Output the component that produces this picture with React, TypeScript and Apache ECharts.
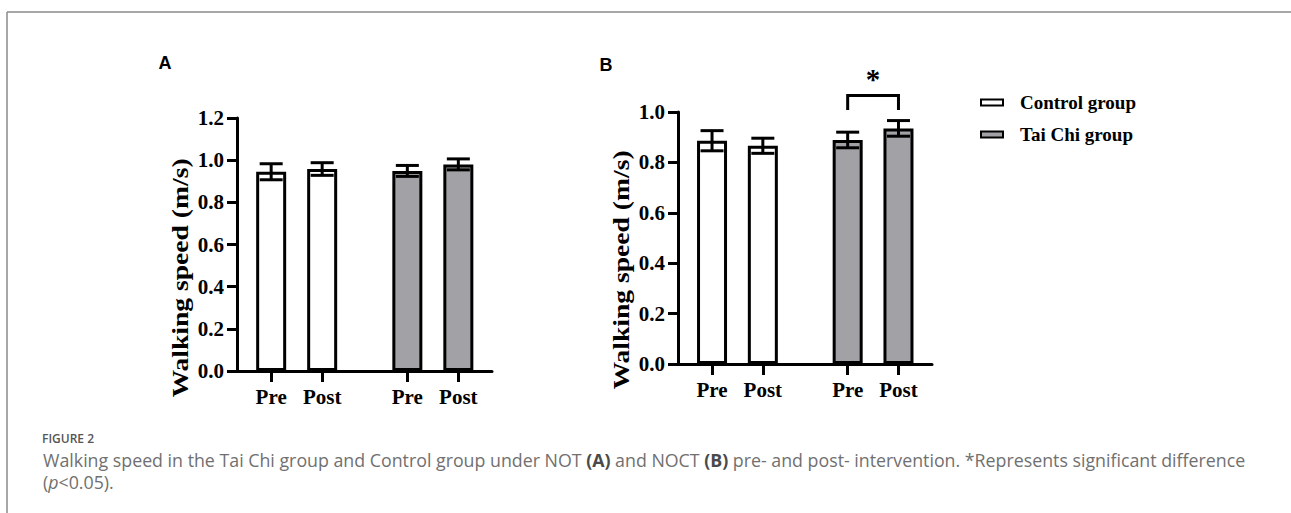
import React, { useEffect, useRef } from "react";
import * as echarts from "echarts";

// ---------- data ----------
const timePoints = ["Pre", "Post"];
const groups = ["Control group", "Tai Chi group"];

// Panel A (NOT)
const meanA_control = [0.945, 0.958];
const sdA_control = [0.038, 0.03];
const meanA_taichi = [0.949, 0.98];
const sdA_taichi = [0.026, 0.026];

// Panel B (NOCT)
const meanB_control = [0.886, 0.866];
const sdB_control = [0.04, 0.03];
const meanB_taichi = [0.889, 0.935];
const sdB_taichi = [0.031, 0.031];

// significance bracket in panel B (Tai Chi Pre vs Post): bracket level, leg end, star level
const sigB = [1.065, 1.008, 1.13];

const yMaxA = 1.2;
const yMaxB = 1.0;

// ---------- layout helpers ----------
const SERIF = "'Liberation Serif', 'Times New Roman', serif";
const SANS = "'Liberation Sans', Arial, sans-serif";
const CAP = "'Open Sans', sans-serif";
const firstOffset = 0.67;
const groupStep = 2.67;
const pos = (g: number, t: number) => firstOffset + g * groupStep + t;
const allPositions = groups.flatMap((_, g) => timePoints.map((_, t) => pos(g, t)));
const labelFor = (v: number) => {
  for (let g = 0; g < groups.length; g++)
    for (let t = 0; t < timePoints.length; t++)
      if (Math.abs(pos(g, t) - v) < 0.01) return timePoints[t];
  return "";
};

const fills = ["#ffffff", "#a2a2a6"];

function buildPanel(pi: number, means: number[][], sds: number[][]) {
  const series: any[] = [];
  groups.forEach((name, g) => {
    series.push({
      type: "bar",
      name,
      xAxisIndex: pi,
      yAxisIndex: pi,
      barWidth: 30,
      barGap: "-100%",
      data: timePoints.map((_, t) => [pos(g, t), means[g][t]]),
      itemStyle: { color: fills[g], borderColor: "#000", borderWidth: 3 },
      z: 2,
    });
  });
  const errData: number[][] = [];
  groups.forEach((_, g) =>
    timePoints.forEach((_, t) => errData.push([pos(g, t), means[g][t], sds[g][t]]))
  );
  series.push({
    type: "custom",
    xAxisIndex: pi,
    yAxisIndex: pi,
    z: 4,
    encode: { x: 0, y: 1 },
    data: errData,
    renderItem: (_p: any, api: any) => {
      const x = api.value(0);
      const m = api.value(1);
      const s = api.value(2);
      const top = api.coord([x, m + s]);
      const bot = api.coord([x, m - s]);
      const hw = 11.5;
      const style = { stroke: "#000", lineWidth: 3, fill: null };
      return {
        type: "group",
        children: [
          { type: "line", shape: { x1: top[0], y1: top[1], x2: bot[0], y2: bot[1] }, style },
          { type: "line", shape: { x1: top[0] - hw, y1: top[1], x2: top[0] + hw, y2: top[1] }, style },
          { type: "line", shape: { x1: bot[0] - hw, y1: bot[1], x2: bot[0] + hw, y2: bot[1] }, style },
        ],
      };
    },
  });
  return series;
}

function xAxisFor(gi: number) {
  return {
    type: "value",
    gridIndex: gi,
    min: 0,
    max: 5,
    splitLine: { show: false },
    axisLine: { show: true, lineStyle: { color: "#000", width: 3 } },
    axisTick: {
      show: true,
      customValues: allPositions,
      length: 11,
      lineStyle: { color: "#000", width: 3 },
    },
    axisLabel: {
      show: true,
      customValues: allPositions,
      formatter: (v: number) => labelFor(v),
      margin: 15,
      fontFamily: SERIF,
      fontWeight: "bold",
      fontSize: 21,
      color: "#000",
    },
  };
}

function yAxisFor(gi: number, max: number) {
  return {
    type: "value",
    gridIndex: gi,
    min: 0,
    max,
    interval: 0.2,
    splitLine: { show: false },
    axisLine: { show: true, lineStyle: { color: "#000", width: 3 } },
    axisTick: { show: true, length: 10, lineStyle: { color: "#000", width: 3 } },
    axisLabel: {
      formatter: (v: number) => v.toFixed(1),
      margin: 13,
      fontFamily: SERIF,
      fontWeight: "bold",
      fontSize: 21,
      color: "#000",
    },
  };
}

export default function App() {
  const ref = useRef<HTMLDivElement>(null);
  useEffect(() => {
    if (!ref.current) return;
    const chart = echarts.init(ref.current, undefined, { renderer: "svg" });

    const seriesA = buildPanel(0, [meanA_control, meanA_taichi], [sdA_control, sdA_taichi]);
    const seriesB = buildPanel(1, [meanB_control, meanB_taichi], [sdB_control, sdB_taichi]);

    const sigSeries = {
      type: "custom",
      xAxisIndex: 1,
      yAxisIndex: 1,
      z: 5,
      clip: false,
      encode: { x: [0, 1], y: [2, 3] },
      data: [[pos(1, 0), pos(1, 1), sigB[0], sigB[1], sigB[2]]],
      renderItem: (_p: any, api: any) => {
        const x1 = api.value(0);
        const x2 = api.value(1);
        const a = api.coord([x1, api.value(3)]);
        const b = api.coord([x1, api.value(2)]);
        const c = api.coord([x2, api.value(2)]);
        const d = api.coord([x2, api.value(3)]);
        const star = api.coord([(x1 + x2) / 2, api.value(4)]);
        return {
          type: "group",
          children: [
            {
              type: "polyline",
              shape: { points: [a, b, c, d] },
              style: { stroke: "#000", lineWidth: 3, fill: null },
            },
            {
              type: "text",
              x: star[0],
              y: star[1],
              style: {
                text: "*",
                fontFamily: SERIF,
                fontWeight: "bold",
                fontSize: 29,
                fill: "#000",
                align: "center",
                verticalAlign: "middle",
              },
            },
          ],
        };
      },
    };

    const option: any = {
      animation: false,
      backgroundColor: "#fff",
      grid: [
        { left: 237, top: 118, width: 255, height: 253 },
        { left: 678, top: 112, width: 254, height: 252 },
      ],
      xAxis: [xAxisFor(0), xAxisFor(1)],
      yAxis: [yAxisFor(0, yMaxA), yAxisFor(1, yMaxB)],
      legend: {
        orient: "vertical",
        left: 975,
        top: 88,
        icon: "rect",
        itemWidth: 22,
        itemHeight: 6,
        itemGap: 13,
        selectedMode: false,
        data: groups,
        textStyle: {
          fontFamily: SERIF,
          fontWeight: "bold",
          fontSize: 19,
          color: "#000",
          padding: [0, 0, 0, 12],
        },
      },
      series: [...seriesA, ...seriesB, sigSeries],
      graphic: {
        elements: [
          { type: "line", shape: { x1: 7, y1: 12, x2: 1291, y2: 12 }, style: { stroke: "#8a8a8a", lineWidth: 1.5 } },
          { type: "line", shape: { x1: 7, y1: 12, x2: 7, y2: 513 }, style: { stroke: "#8a8a8a", lineWidth: 1.5 } },
          {
            type: "text", x: 165, y: 63,
            style: { text: "A", fontFamily: SANS, fontWeight: "bold", fontSize: 18, fill: "#000", align: "center", verticalAlign: "middle" },
          },
          {
            type: "text", x: 606, y: 65,
            style: { text: "B", fontFamily: SANS, fontWeight: "bold", fontSize: 18, fill: "#000", align: "center", verticalAlign: "middle" },
          },
          {
            type: "text", x: 180, y: 278, rotation: Math.PI / 2, scaleX: 1.15,
            style: { text: "Walking speed (m/s)", fontFamily: SERIF, fontWeight: "bold", fontSize: 24, fill: "#000", align: "center", verticalAlign: "middle" },
          },
          {
            type: "text", x: 621, y: 270, rotation: Math.PI / 2, scaleX: 1.15,
            style: { text: "Walking speed (m/s)", fontFamily: SERIF, fontWeight: "bold", fontSize: 24, fill: "#000", align: "center", verticalAlign: "middle" },
          },
          {
            type: "text", x: 42, y: 438,
            style: { text: "FIGURE 2", fontFamily: CAP, fontWeight: 600, fontSize: 12, fill: "#555", align: "left", verticalAlign: "middle" },
          },
          {
            type: "text", x: 43, y: 460,
            style: {
              text: "Walking speed in the Tai Chi group and Control group under NOT {b|(A)} and NOCT {b|(B)} pre- and post- intervention. *Represents significant difference",
              fontFamily: CAP, fontSize: 17.8, fill: "#707070", align: "left", verticalAlign: "middle",
              rich: { b: { fontFamily: CAP, fontSize: 17.8, fontWeight: "bold", fill: "#4a4a4a" } },
            },
          },
          {
            type: "text", x: 43, y: 482,
            style: {
              text: "({i|p}<0.05).",
              fontFamily: CAP, fontSize: 17.8, fill: "#707070", align: "left", verticalAlign: "middle",
              rich: { i: { fontFamily: CAP, fontSize: 17.8, fontStyle: "italic", fill: "#707070" } },
            },
          },
        ],
      },
    };
    chart.setOption(option);
    return () => chart.dispose();
  }, []);
  return (
    <div
      ref={ref}
      style={{ position: "absolute", left: 0, top: 0, width: 1291, height: 513 }}
    />
  );
}
